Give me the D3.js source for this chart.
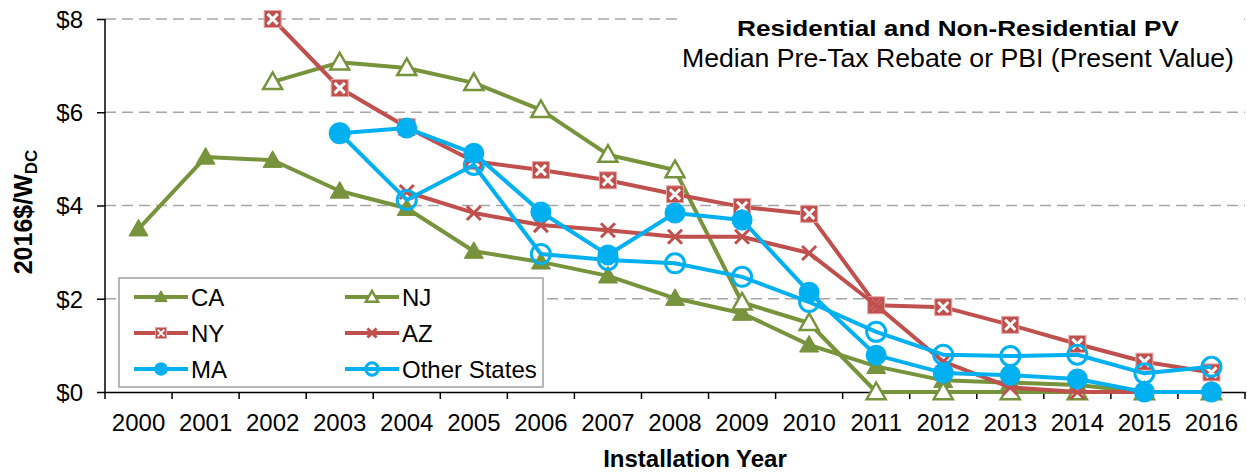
<!DOCTYPE html>
<html>
<head>
<meta charset="utf-8">
<script src="https://cdn.jsdelivr.net/npm/d3@7"></script>
<style>
  body { margin: 0; background: #fff; }
  svg text { font-family: "Liberation Sans", Arial, sans-serif; }
</style>
</head>
<body>
<div id="chart"></div>
<script>
const years = ["2000","2001","2002","2003","2004","2005","2006","2007","2008","2009","2010","2011","2012","2013","2014","2015","2016"];
const yTicks = [0, 2, 4, 6, 8];

// median rebate, 2016$/W (null = no data that year)
const caValues    = [3.5, 5.04, 4.97, 4.31, 3.94, 3.02, 2.79, 2.49, 2.01, 1.69, 1.01, 0.55, 0.25, 0.2, 0.15, 0, 0];
const njValues    = [null, null, 6.65, 7.07, 6.95, 6.63, 6.05, 5.09, 4.76, 1.92, 1.48, 0, 0, 0, 0, 0, 0];
const nyValues    = [null, null, 8.0, 6.52, 5.68, 4.95, 4.76, 4.54, 4.24, 3.97, 3.82, 1.86, 1.82, 1.44, 1.03, 0.65, 0.42];
const azValues    = [null, null, null, null, 4.29, 3.84, 3.58, 3.47, 3.33, 3.33, 2.98, 1.86, 0.65, 0.1, 0, 0, 0];
const maValues    = [null, null, null, 5.55, 5.66, 5.12, 3.86, 2.94, 3.84, 3.69, 2.14, 0.79, 0.41, 0.36, 0.28, 0, 0];
const otherValues = [null, null, null, 5.55, 4.12, 4.87, 2.96, 2.83, 2.76, 2.47, 1.93, 1.29, 0.8, 0.77, 0.8, 0.4, 0.54];

const green = "#77933C", red = "#C0504D", blue = "#00B0F0";

const series = [
    {name: "CA", values: caValues, color: green, marker: "triFill"},
    {name: "NJ", values: njValues, color: green, marker: "triOpen"},
    {name: "NY", values: nyValues, color: red, marker: "square"},
    {name: "AZ", values: azValues, color: red, marker: "cross"},
    {name: "MA", values: maValues, color: blue, marker: "dotFill"},
    {name: "Other States", values: otherValues, color: blue, marker: "dotOpen"}
];

const svg = d3.select("#chart")
    .append("svg")
    .attr("width", 1247)
    .attr("height", 473);

const x = d3.scaleBand()
    .domain(years)
    .range([105, 1245]);

const y = d3.scaleLinear()
    .domain([0, 8])
    .range([392, 19]);

// dashed gridlines
svg.append("g")
    .selectAll("line")
    .data(yTicks.filter(d => d > 0))
    .enter()
    .append("line")
    .attr("x1", 105)
    .attr("x2", 1245)
    .attr("y1", d => y(d))
    .attr("y2", d => y(d))
    .attr("stroke", "#a6a6a6")
    .attr("stroke-width", 1.7)
    .attr("stroke-dasharray", "11,6");

// y axis
const yAxis = svg.append("g")
    .attr("transform", "translate(105,0)")
    .call(d3.axisLeft(y).tickValues(yTicks).tickFormat(d => "$" + d).tickSize(8).tickPadding(14));
yAxis.select(".domain").attr("stroke", "#000").attr("stroke-width", 1.5).attr("d", "M0," + y(8) + "V" + y(0));
yAxis.selectAll(".tick line").attr("stroke", "#000").attr("stroke-width", 1.5);
yAxis.selectAll("text").style("font-size", "24px").attr("fill", "#000").attr("dy", "0.35em");

// x axis - labels at band centres, ticks at band edges
const xAxis = svg.append("g")
    .attr("transform", "translate(0,392)")
    .call(d3.axisBottom(x).tickSize(0).tickPadding(0));
xAxis.select(".domain").attr("stroke", "#000").attr("stroke-width", 1.5);
xAxis.selectAll("text").style("font-size", "24px").attr("fill", "#000").attr("dy", null).attr("y", 39);

const edges = years.map(d => x(d)).concat([x.range()[1]]);
svg.append("g")
    .selectAll("line")
    .data(edges)
    .enter()
    .append("line")
    .attr("x1", d => d)
    .attr("x2", d => d)
    .attr("y1", 392)
    .attr("y2", 399)
    .attr("stroke", "#000")
    .attr("stroke-width", 1.5);

// axis titles
const yLabel = svg.append("text")
    .attr("transform", "translate(32,212) rotate(-90)")
    .style("text-anchor", "middle")
    .style("font-size", "25px")
    .style("font-weight", "bold");
yLabel.append("tspan").text("2016$/W");
yLabel.append("tspan").attr("dy", 5).style("font-size", "17px").text("DC");

svg.append("text")
    .attr("x", 695)
    .attr("y", 467)
    .style("text-anchor", "middle")
    .style("font-size", "24px")
    .style("font-weight", "bold")
    .text("Installation Year");

// title box
svg.append("rect")
    .attr("x", 680).attr("y", 4)
    .attr("width", 558).attr("height", 80)
    .attr("fill", "#fff");
svg.append("text")
    .attr("x", 958).attr("y", 36)
    .style("text-anchor", "middle")
    .style("font-size", "22px")
    .style("font-weight", "bold")
    .attr("textLength", 442)
    .attr("lengthAdjust", "spacingAndGlyphs")
    .text("Residential and Non-Residential PV");
svg.append("text")
    .attr("x", 958).attr("y", 67)
    .style("text-anchor", "middle")
    .style("font-size", "25px")
    .attr("textLength", 552)
    .attr("lengthAdjust", "spacingAndGlyphs")
    .text("Median Pre-Tax Rebate  or PBI (Present Value)");

function drawMarker(g, type, color, s) {
    // s = scale factor, 1 for plot markers
    if (type === "triFill" || type === "triOpen") {
        const h = 9.5 * s;
        g.append("path")
            .attr("d", `M0,${-h}L${h},${h * 0.75}L${-h},${h * 0.75}Z`)
            .attr("fill", type === "triFill" ? color : "#fff")
            .attr("stroke", color)
            .attr("stroke-width", type === "triFill" ? 1 : 2.5);
    } else if (type === "square") {
        const h = 8.5 * s;
        g.append("rect")
            .attr("x", -h).attr("y", -h)
            .attr("width", 2 * h).attr("height", 2 * h)
            .attr("fill", color)
            .attr("stroke", "#e6a6a5")
            .attr("stroke-width", 1);
        const k = h * 0.6;
        g.append("path")
            .attr("d", `M${-k},${-k}L${k},${k}M${k},${-k}L${-k},${k}`)
            .attr("stroke", "#fff")
            .attr("stroke-width", 3 * s);
    } else if (type === "cross") {
        const k = 7 * s;
        g.append("path")
            .attr("d", `M${-k},${-k}L${k},${k}M${k},${-k}L${-k},${k}`)
            .attr("stroke", color)
            .attr("stroke-width", 3);
    } else if (type === "dotFill") {
        g.append("circle").attr("r", 10.5 * s).attr("fill", color);
    } else if (type === "dotOpen") {
        g.append("circle").attr("r", 9.5 * s)
            .attr("fill", "none")
            .attr("stroke", color)
            .attr("stroke-width", 3);
    }
}

const line = d3.line()
    .defined(d => d.v !== null)
    .x(d => x(d.year) + x.bandwidth() / 2)
    .y(d => y(d.v));

series.forEach(s => {
    const pts = years.map((yr, i) => ({year: yr, v: s.values[i]}));
    const g = svg.append("g");
    g.append("path")
        .datum(pts)
        .attr("d", line)
        .attr("fill", "none")
        .attr("stroke", s.color)
        .attr("stroke-width", 4)
        .attr("stroke-linejoin", "round");
    g.selectAll(".m")
        .data(pts.filter(d => d.v !== null))
        .enter()
        .append("g")
        .attr("class", "m")
        .attr("transform", d => `translate(${x(d.year) + x.bandwidth() / 2},${y(d.v)})`)
        .each(function() { drawMarker(d3.select(this), s.marker, s.color, 1); });
});

// legend
const legend = svg.append("g");
legend.append("rect")
    .attr("x", 119).attr("y", 278)
    .attr("width", 424).attr("height", 109)
    .attr("fill", "#fff")
    .attr("stroke", "#a0a0a0")
    .attr("stroke-width", 1.5);

series.forEach((s, i) => {
    const col = i % 2, row = Math.floor(i / 2);
    const lx = col === 0 ? 134 : 345;
    const ly = 297 + row * 36;
    const item = legend.append("g").attr("transform", `translate(${lx},${ly})`);
    item.append("line")
        .attr("x1", 0).attr("x2", 54)
        .attr("stroke", s.color)
        .attr("stroke-width", 4);
    const m = item.append("g").attr("transform", "translate(27,0)");
    drawMarker(m, s.marker, s.color, 0.65);
    item.append("text")
        .attr("x", 57)
        .attr("y", 9)
        .style("font-size", "24px")
        .text(s.name);
});
</script>
</body>
</html>
